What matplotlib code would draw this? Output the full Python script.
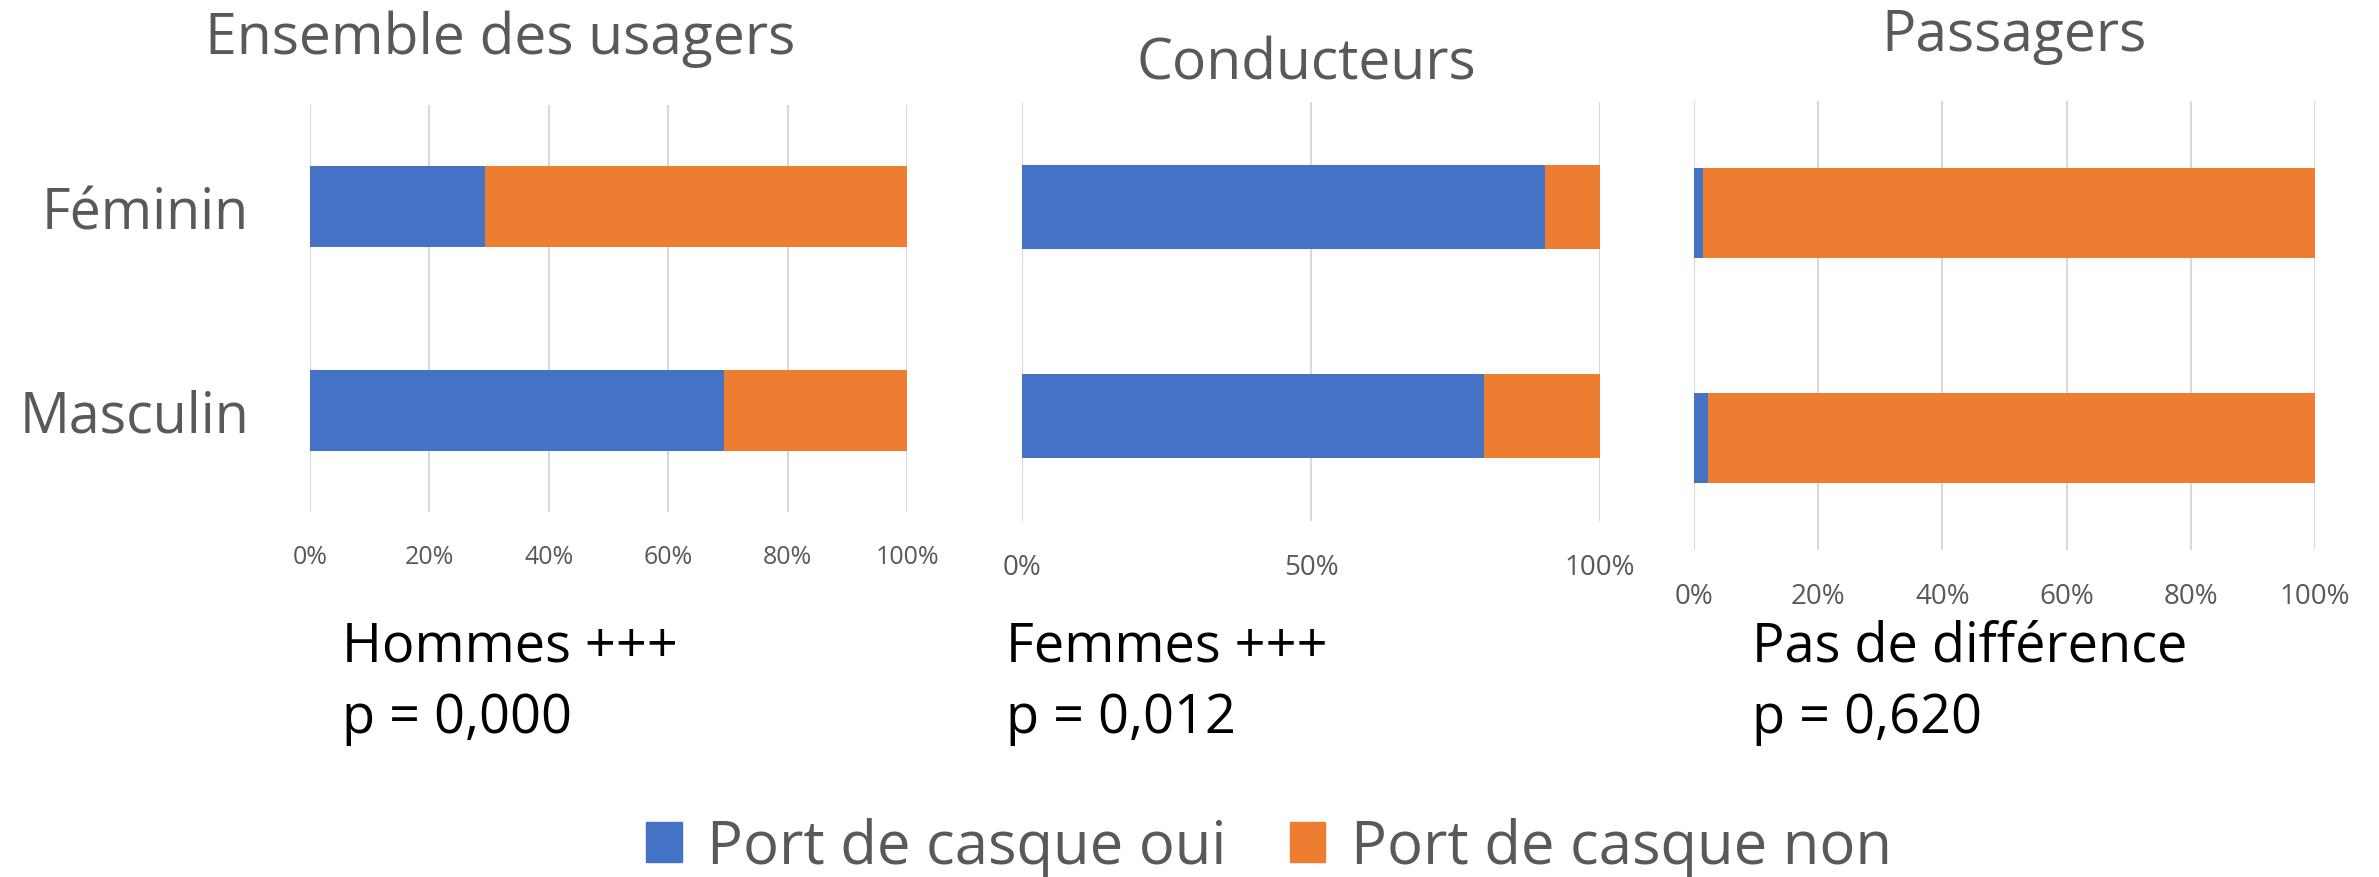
import matplotlib
matplotlib.use('Agg')
import matplotlib.pyplot as plt
from matplotlib.patches import Patch

plt.rcParams['font.family'] = ['Open Sans', 'DejaVu Sans']

BLUE = '#4472C4'
ORANGE = '#ED7D31'
GREY = '#595959'
GRID = '#D9D9D9'

categories = ['Féminin', 'Masculin']
series_names = ['Port de casque oui', 'Port de casque non']

titles = ['Ensemble des usagers', 'Conducteurs', 'Passagers']
oui = [[29.3, 69.3], [90.5, 79.9], [1.5, 2.2]]
non = [[70.7, 30.7], [9.5, 20.1], [98.5, 97.8]]
ticks = [[0, 20, 40, 60, 80, 100], [0, 50, 100], [0, 20, 40, 60, 80, 100]]
notes = [['Hommes +++', 'p = 0,000'],
         ['Femmes +++', 'p = 0,012'],
         ['Pas de différence', 'p = 0,620']]

W, H = 2379, 878
fig = plt.figure(figsize=(W / 100, H / 100), dpi=100)

# axes boxes in pixels: left, top, right, bottom
boxes = [(310, 106, 907, 513), (1022, 103, 1600, 522), (1694, 102, 2315, 551)]
title_pos = [(500, 54), (1306, 79), (2014, 51)]
note_x = [342, 1006, 1752]
tick_size = [18, 20, 20]

for i, (l, t, r, b) in enumerate(boxes):
    ax = fig.add_axes([l / W, 1 - b / H, (r - l) / W, (b - t) / H])
    y = range(len(categories))
    ax.barh(y, oui[i], height=0.4, color=BLUE, zorder=2)
    ax.barh(y, non[i], left=oui[i], height=0.4, color=ORANGE, zorder=2)
    ax.set_xlim(0, 100)
    ax.set_ylim(len(categories) - 0.5, -0.5)
    ax.set_xticks(ticks[i])
    ax.set_xticklabels([f'{v}%' for v in ticks[i]])
    ax.grid(axis='x', color=GRID, linewidth=1.5, zorder=0)
    ax.set_axisbelow(True)
    for s in ax.spines.values():
        s.set_visible(False)
    ax.tick_params(axis='x', length=0, pad=23, labelsize=tick_size[i], labelcolor=GREY)
    if i == 0:
        ax.set_yticks(list(y))
        ax.set_yticklabels(categories)
        ax.tick_params(axis='y', length=0, pad=44, labelsize=40, labelcolor=GREY)
    else:
        ax.set_yticks([])

    tx, ty = title_pos[i]
    fig.text(tx / W, 1 - ty / H, titles[i], ha='center', va='baseline',
             fontsize=41, color=GREY)
    fig.text(note_x[i] / W, 1 - 662 / H, notes[i][0], ha='left', va='baseline',
             fontsize=39, color='black')
    fig.text(note_x[i] / W, 1 - 733 / H, notes[i][1], ha='left', va='baseline',
             fontsize=39, color='black')

handles = [Patch(color=BLUE), Patch(color=ORANGE)]
leg = fig.legend(handles, series_names, loc='center', ncol=2,
                 bbox_to_anchor=(1269 / W, 1 - 848 / H), frameon=False,
                 fontsize=43, handlelength=0.6, handleheight=0.66,
                 handletextpad=0.42, columnspacing=1.05, borderpad=0)
for txt in leg.get_texts():
    txt.set_color(GREY)

fig.savefig('out.png', dpi=100)
